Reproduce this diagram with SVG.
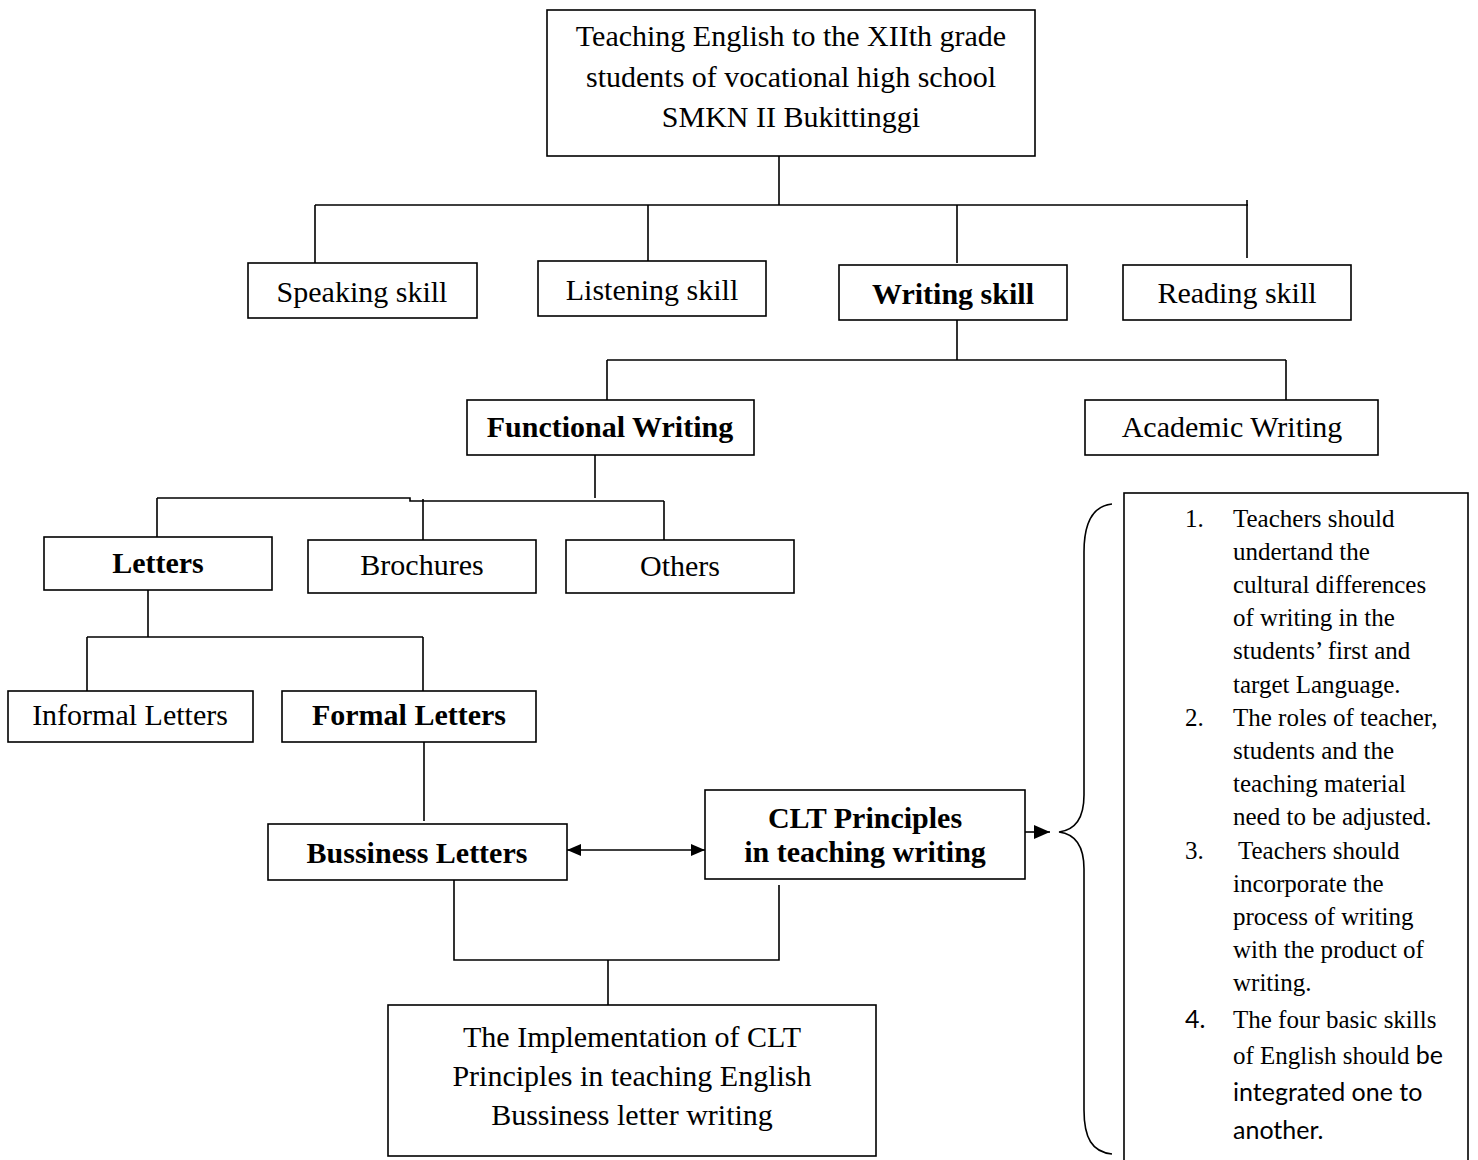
<svg xmlns="http://www.w3.org/2000/svg" width="1478" height="1160" viewBox="0 0 1478 1160">
<defs>
<style>
.box{fill:#fff;stroke:#000;stroke-width:1.6}
.ln{fill:none;stroke:#000;stroke-width:1.6}
.t{font-family:"Liberation Serif","Times New Roman",serif;font-size:30px;fill:#000;text-anchor:middle}
.b{font-weight:bold}
.s{font-family:"Liberation Serif","Times New Roman",serif;font-size:25px;fill:#000}
.sans{font-family:"Lato","Open Sans",sans-serif;font-size:25px}
</style>
<marker id="ah" viewBox="0 0 16 14" refX="16" refY="7" markerWidth="16" markerHeight="14" markerUnits="userSpaceOnUse" orient="auto-start-reverse">
<path d="M0,0 L16,7 L0,14 z" fill="#000"/>
</marker>
<marker id="ah2" viewBox="0 0 14 12" refX="14" refY="6" markerWidth="14" markerHeight="12" markerUnits="userSpaceOnUse" orient="auto-start-reverse">
<path d="M0,0 L14,6 L0,12 z" fill="#000"/>
</marker>
</defs>
<rect width="1478" height="1160" fill="#fff"/>
<g id="connectors">
<path class="ln" d="M779,156 V205 M315,205 H1248 M315,205 V263 M648,205 V261 M957,205 V263 M1247,200 V258"/>
<path class="ln" d="M957,320 V360 M607,360 H1286 M607,360 V400 M1286,360 V400"/>
<path class="ln" d="M595,455 V498 M157,498 H410 V501 H664 M157,498 V537 M423,499 V540 M664,501 V540"/>
<path class="ln" d="M148,590 V637 M87,637 H423 M87,637 V691 M423,637 V691"/>
<path class="ln" d="M424,742 V821"/>
<line class="ln" x1="567" y1="850" x2="705" y2="850" marker-start="url(#ah2)" marker-end="url(#ah2)"/>
<line class="ln" x1="1025" y1="832" x2="1050" y2="832" marker-end="url(#ah)"/>
<path class="ln" d="M454,880 V960 H779 V885 M608,960 V1005"/>
<path class="ln" d="M1112,504 C1092,506 1084,525 1084,552 V795 C1084,818 1075,830 1059,832 C1075,834 1084,846 1084,869 V1110 C1084,1138 1092,1152 1112,1154"/>
</g>
<g id="top">
<rect class="box" x="547" y="10" width="488" height="146"/>
<text class="t" x="791" y="46">Teaching English to the XIIth grade</text>
<text class="t" x="791" y="87">students of vocational high school</text>
<text class="t" x="791" y="127">SMKN II Bukittinggi</text>
</g>
<g id="speaking"><rect class="box" x="248" y="263" width="229" height="55"/><text class="t" x="362" y="302">Speaking skill</text></g>
<g id="listening"><rect class="box" x="538" y="261" width="228" height="55"/><text class="t" x="652" y="300">Listening skill</text></g>
<g id="writing"><rect class="box" x="839" y="265" width="228" height="55"/><text class="t b" x="953" y="304">Writing skill</text></g>
<g id="reading"><rect class="box" x="1123" y="265" width="228" height="55"/><text class="t" x="1237" y="303">Reading skill</text></g>
<g id="functional"><rect class="box" x="467" y="400" width="287" height="55"/><text class="t b" x="610" y="437">Functional Writing</text></g>
<g id="academic"><rect class="box" x="1085" y="400" width="293" height="55"/><text class="t" x="1232" y="437">Academic Writing</text></g>
<g id="letters"><rect class="box" x="44" y="537" width="228" height="53"/><text class="t b" x="158" y="573">Letters</text></g>
<g id="brochures"><rect class="box" x="308" y="540" width="228" height="53"/><text class="t" x="422" y="575">Brochures</text></g>
<g id="others"><rect class="box" x="566" y="540" width="228" height="53"/><text class="t" x="680" y="576">Others</text></g>
<g id="informal"><rect class="box" x="8" y="691" width="245" height="51"/><text class="t" x="130" y="725">Informal Letters</text></g>
<g id="formal"><rect class="box" x="282" y="691" width="254" height="51"/><text class="t b" x="409" y="725">Formal Letters</text></g>
<g id="business"><rect class="box" x="268" y="824" width="299" height="56"/><text class="t b" x="417" y="863">Bussiness Letters</text></g>
<g id="clt"><rect class="box" x="705" y="790" width="320" height="89"/><text class="t b" x="865" y="828">CLT Principles</text><text class="t b" x="865" y="862">in teaching writing</text></g>
<g id="implementation">
<rect class="box" x="388" y="1005" width="488" height="151"/>
<text class="t" x="632" y="1047">The Implementation of CLT</text>
<text class="t" x="632" y="1086">Principles in teaching English</text>
<text class="t" x="632" y="1125">Bussiness letter writing</text>
</g>
<g id="principles">
<rect class="box" x="1124" y="493" width="344" height="680"/>
<text class="s" x="1185" y="527">1.</text>
<text class="s" x="1233" y="527">Teachers should</text>
<text class="s" x="1233" y="560">undertand the</text>
<text class="s" x="1233" y="593">cultural differences</text>
<text class="s" x="1233" y="626">of writing in the</text>
<text class="s" x="1233" y="659">students’ first and</text>
<text class="s" x="1233" y="693">target Language.</text>
<text class="s" x="1185" y="726">2.</text>
<text class="s" x="1233" y="726">The roles of teacher,</text>
<text class="s" x="1233" y="759">students and the</text>
<text class="s" x="1233" y="792">teaching material</text>
<text class="s" x="1233" y="825">need to be adjusted.</text>
<text class="s" x="1185" y="859">3.</text>
<text class="s" x="1238" y="859">Teachers should</text>
<text class="s" x="1233" y="892">incorporate the</text>
<text class="s" x="1233" y="925">process of writing</text>
<text class="s" x="1233" y="958">with the product of</text>
<text class="s" x="1233" y="991">writing.</text>
<text class="s sans" x="1185" y="1028">4.</text>
<text class="s" x="1233" y="1028">The four basic skills</text>
<text class="s" x="1233" y="1064">of English should <tspan class="sans">be</tspan></text>
<text class="s sans" x="1233" y="1101">integrated one to</text>
<text class="s sans" x="1233" y="1139">another.</text>
</g>
</svg>
